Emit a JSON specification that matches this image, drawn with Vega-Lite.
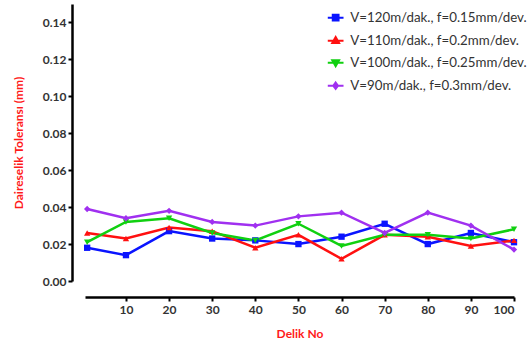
{
  "$schema": "https://vega.github.io/schema/vega-lite/v6.json",
  "width": 429,
  "height": 277,
  "autosize": "none",
  "padding": {"left": 85, "top": 4, "right": 15, "bottom": 63},
  "background": "white",
  "config": {
    "view": {"stroke": null},
    "font": "Lato",
    "axis": {"grid": false, "domainColor": "black", "domainWidth": 2.5, "tickColor": "black", "tickWidth": 2, "tickSize": 4, "labelFont": "Lato", "labelFontWeight": "bold", "labelFontSize": 12, "labelColor": "#333333", "titleFont": "Lato", "titleFontWeight": "bold", "titleFontSize": 12, "titleColor": "#FF1A1A"}
  },
  "data": {
    "values": [
      {"delik": 1, "seri": "V=120m/dak., f=0.15mm/dev.", "tol": 0.018},
      {"delik": 10, "seri": "V=120m/dak., f=0.15mm/dev.", "tol": 0.014},
      {"delik": 20, "seri": "V=120m/dak., f=0.15mm/dev.", "tol": 0.027},
      {"delik": 30, "seri": "V=120m/dak., f=0.15mm/dev.", "tol": 0.023},
      {"delik": 40, "seri": "V=120m/dak., f=0.15mm/dev.", "tol": 0.022},
      {"delik": 50, "seri": "V=120m/dak., f=0.15mm/dev.", "tol": 0.020},
      {"delik": 60, "seri": "V=120m/dak., f=0.15mm/dev.", "tol": 0.024},
      {"delik": 70, "seri": "V=120m/dak., f=0.15mm/dev.", "tol": 0.031},
      {"delik": 80, "seri": "V=120m/dak., f=0.15mm/dev.", "tol": 0.020},
      {"delik": 90, "seri": "V=120m/dak., f=0.15mm/dev.", "tol": 0.026},
      {"delik": 100, "seri": "V=120m/dak., f=0.15mm/dev.", "tol": 0.021},
      {"delik": 1, "seri": "V=110m/dak., f=0.2mm/dev.", "tol": 0.026},
      {"delik": 10, "seri": "V=110m/dak., f=0.2mm/dev.", "tol": 0.023},
      {"delik": 20, "seri": "V=110m/dak., f=0.2mm/dev.", "tol": 0.029},
      {"delik": 30, "seri": "V=110m/dak., f=0.2mm/dev.", "tol": 0.027},
      {"delik": 40, "seri": "V=110m/dak., f=0.2mm/dev.", "tol": 0.018},
      {"delik": 50, "seri": "V=110m/dak., f=0.2mm/dev.", "tol": 0.025},
      {"delik": 60, "seri": "V=110m/dak., f=0.2mm/dev.", "tol": 0.012},
      {"delik": 70, "seri": "V=110m/dak., f=0.2mm/dev.", "tol": 0.025},
      {"delik": 80, "seri": "V=110m/dak., f=0.2mm/dev.", "tol": 0.024},
      {"delik": 90, "seri": "V=110m/dak., f=0.2mm/dev.", "tol": 0.019},
      {"delik": 100, "seri": "V=110m/dak., f=0.2mm/dev.", "tol": 0.022},
      {"delik": 1, "seri": "V=100m/dak., f=0.25mm/dev.", "tol": 0.021},
      {"delik": 10, "seri": "V=100m/dak., f=0.25mm/dev.", "tol": 0.032},
      {"delik": 20, "seri": "V=100m/dak., f=0.25mm/dev.", "tol": 0.034},
      {"delik": 30, "seri": "V=100m/dak., f=0.25mm/dev.", "tol": 0.026},
      {"delik": 40, "seri": "V=100m/dak., f=0.25mm/dev.", "tol": 0.022},
      {"delik": 50, "seri": "V=100m/dak., f=0.25mm/dev.", "tol": 0.031},
      {"delik": 60, "seri": "V=100m/dak., f=0.25mm/dev.", "tol": 0.019},
      {"delik": 70, "seri": "V=100m/dak., f=0.25mm/dev.", "tol": 0.025},
      {"delik": 80, "seri": "V=100m/dak., f=0.25mm/dev.", "tol": 0.025},
      {"delik": 90, "seri": "V=100m/dak., f=0.25mm/dev.", "tol": 0.023},
      {"delik": 100, "seri": "V=100m/dak., f=0.25mm/dev.", "tol": 0.028},
      {"delik": 1, "seri": "V=90m/dak., f=0.3mm/dev.", "tol": 0.039},
      {"delik": 10, "seri": "V=90m/dak., f=0.3mm/dev.", "tol": 0.034},
      {"delik": 20, "seri": "V=90m/dak., f=0.3mm/dev.", "tol": 0.038},
      {"delik": 30, "seri": "V=90m/dak., f=0.3mm/dev.", "tol": 0.032},
      {"delik": 40, "seri": "V=90m/dak., f=0.3mm/dev.", "tol": 0.030},
      {"delik": 50, "seri": "V=90m/dak., f=0.3mm/dev.", "tol": 0.035},
      {"delik": 60, "seri": "V=90m/dak., f=0.3mm/dev.", "tol": 0.037},
      {"delik": 70, "seri": "V=90m/dak., f=0.3mm/dev.", "tol": 0.026},
      {"delik": 80, "seri": "V=90m/dak., f=0.3mm/dev.", "tol": 0.037},
      {"delik": 90, "seri": "V=90m/dak., f=0.3mm/dev.", "tol": 0.030},
      {"delik": 100, "seri": "V=90m/dak., f=0.3mm/dev.", "tol": 0.017}
    ]
  },
  "encoding": {
    "x": {"field": "delik", "type": "quantitative", "scale": {"domain": [0.5, 100], "nice": false, "zero": false},
      "axis": {"values": [10, 20, 30, 40, 50, 60, 70, 80, 90, 100], "title": "Delik No", "offset": 16, "titlePadding": 13, "labelPadding": 3}},
    "y": {"field": "tol", "type": "quantitative", "scale": {"domain": [0, 0.15], "nice": false},
      "axis": {"values": [0, 0.02, 0.04, 0.06, 0.08, 0.1, 0.12, 0.14], "format": ".2f", "title": "Daireselik Toleransı (mm)", "offset": 13, "titlePadding": 17}},
    "color": {"field": "seri", "type": "nominal",
      "sort": ["V=120m/dak., f=0.15mm/dev.", "V=110m/dak., f=0.2mm/dev.", "V=100m/dak., f=0.25mm/dev.", "V=90m/dak., f=0.3mm/dev."],
      "scale": {"domain": ["V=120m/dak., f=0.15mm/dev.", "V=110m/dak., f=0.2mm/dev.", "V=100m/dak., f=0.25mm/dev.", "V=90m/dak., f=0.3mm/dev."], "range": ["#0A14FF", "#FF1010", "#10D010", "#A030F0"]},
      "legend": {"title": null, "orient": "none", "legendX": 244, "legendY": 7, "labelFont": "Lato", "labelFontSize": 13.3, "labelColor": "#333333", "labelLimit": 300, "rowPadding": 7, "symbolSize": 110, "labelOffset": 8,
        "encode": {"symbols": {"update": {
          "shape": {"signal": "datum.value === 'V=120m/dak., f=0.15mm/dev.' ? 'M-1.5,0H1.5M-0.55,-0.55H0.55V0.55H-0.55Z' : datum.value === 'V=110m/dak., f=0.2mm/dev.' ? 'M-1.5,0H1.5M0,-0.7L0.65,0.45H-0.65Z' : datum.value === 'V=100m/dak., f=0.25mm/dev.' ? 'M-1.5,0H1.5M0,0.7L0.65,-0.45H-0.65Z' : 'M-1.5,0H1.5M0,-0.6L0.45,0L0,0.6L-0.45,0Z'"},
          "stroke": {"signal": "scale('color', datum.value)"},
          "fill": {"signal": "scale('color', datum.value)"},
          "strokeWidth": {"value": 2},
          "opacity": {"value": 1}
        }}}}}
  },
  "layer": [
    {"mark": {"type": "line", "strokeWidth": 2.5}, "encoding": {}},
    {"transform": [{"filter": "datum.seri === 'V=120m/dak., f=0.15mm/dev.'"}],
      "mark": {"type": "point", "filled": true, "size": 40, "opacity": 1, "shape": "square"}, "encoding": {}},
    {"transform": [{"filter": "datum.seri === 'V=110m/dak., f=0.2mm/dev.'"}],
      "mark": {"type": "point", "filled": true, "size": 40, "opacity": 1, "shape": "triangle-up"}, "encoding": {}},
    {"transform": [{"filter": "datum.seri === 'V=100m/dak., f=0.25mm/dev.'"}],
      "mark": {"type": "point", "filled": true, "size": 40, "opacity": 1, "shape": "triangle-down"}, "encoding": {}},
    {"transform": [{"filter": "datum.seri === 'V=90m/dak., f=0.3mm/dev.'"}],
      "mark": {"type": "point", "filled": true, "size": 40, "opacity": 1, "shape": "diamond"}, "encoding": {}}
  ]
}
